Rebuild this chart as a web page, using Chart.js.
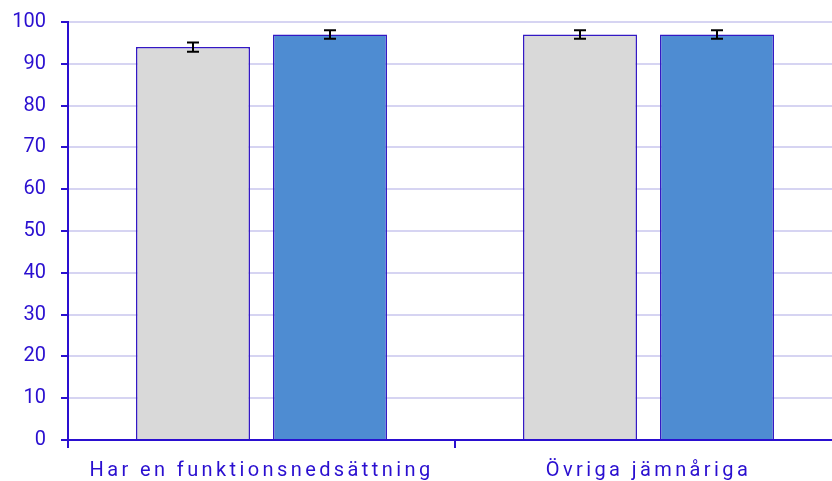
<!DOCTYPE html>
<html>
<head>
<meta charset="utf-8">
<script src="https://cdn.jsdelivr.net/npm/chart.js@4/dist/chart.umd.min.js"></script>
<style>
html,body{margin:0;padding:0;background:#fff;overflow:hidden;width:832px;height:481px;}
#wrap{width:842px;height:481px;position:relative;}
</style>
</head>
<body>
<div id="wrap"><canvas id="c" width="842" height="481"></canvas></div>
<script>
const categories = ["Har en funktionsnedsättning", "Övriga jämnåriga"];
const seriesA = [94, 97];
const seriesB = [97, 97];
const errorsA = [1.1, 1.0];
const errorsB = [1.0, 1.0];
const yTicks = [0, 10, 20, 30, 40, 50, 60, 70, 80, 90, 100];

const AXIS = "#2a0fd0";
const TEXT = "#2a0fd0";

const errorPlugin = {
  id: "errorBars",
  afterDatasetsDraw(chart) {
    const ctx = chart.ctx;
    const ys = chart.scales.y;
    const errs = [errorsA, errorsB];
    chart.data.datasets.forEach((ds, di) => {
      const meta = chart.getDatasetMeta(di);
      meta.data.forEach((bar, i) => {
        const v = ds.data[i], e = errs[di][i];
        const top = ys.getPixelForValue(v + e), bot = ys.getPixelForValue(v - e);
        const x = bar.x;
        ctx.save();
        ctx.strokeStyle = "#000";
        ctx.lineWidth = 2;
        ctx.beginPath();
        ctx.moveTo(x, top); ctx.lineTo(x, bot);
        ctx.moveTo(x - 6, top); ctx.lineTo(x + 6, top);
        ctx.moveTo(x - 6, bot); ctx.lineTo(x + 6, bot);
        ctx.stroke();
        ctx.restore();
      });
    });
  }
};

const spacingPlugin = {
  id: "spacing",
  afterLayout(chart) {
    const sx = chart.scales.x;
    if (sx && !sx._patched) {
      const orig = sx.drawLabels;
      sx.drawLabels = function(area) {
        const ctx = this.ctx;
        ctx.save();
        ctx.letterSpacing = "3.4px";
        orig.call(this, area);
        ctx.restore();
      };
      sx._patched = true;
    }
  }
};

new Chart(document.getElementById("c"), {
  type: "bar",
  data: {
    labels: categories,
    datasets: [
      { data: seriesA, backgroundColor: "#d9d9d9", borderColor: "#3318c4", borderWidth: 1.5,
        categoryPercentage: 0.708, barPercentage: 0.832 },
      { data: seriesB, backgroundColor: "#4e8cd2", borderColor: "#3318c4", borderWidth: 1.5,
        categoryPercentage: 0.708, barPercentage: 0.832 }
    ]
  },
  options: {
    responsive: false,
    animation: false,
    layout: { padding: { top: 22, left: 0, right: 0, bottom: 0 } },
    plugins: { legend: { display: false }, tooltip: { enabled: false } },
    scales: {
      x: {
        offset: true,
        grid: { offset: true, drawOnChartArea: false, drawTicks: true, tickLength: 8, color: AXIS, lineWidth: 2 },
        border: { color: AXIS, width: 2 },
        ticks: { color: TEXT, font: { family: "Roboto", size: 20 }, padding: 11, maxRotation: 0 },
        afterFit(s) { s.height = 41; s.paddingLeft = 0; s.paddingRight = 0; }
      },
      y: {
        min: 0, max: 100,
        afterBuildTicks(s) { s.ticks = yTicks.map(v => ({ value: v })); },
        grid: { color: "#d6d4f2", lineWidth: 2, tickColor: AXIS, tickLength: 7 },
        border: { color: AXIS, width: 2 },
        ticks: { color: TEXT, font: { family: "Roboto", size: 20 }, padding: 15 },
        afterFit(s) { s.width = 68; s.paddingTop = 0; s.paddingBottom = 0; }
      }
    }
  },
  plugins: [errorPlugin, spacingPlugin]
});
</script>
</body>
</html>
